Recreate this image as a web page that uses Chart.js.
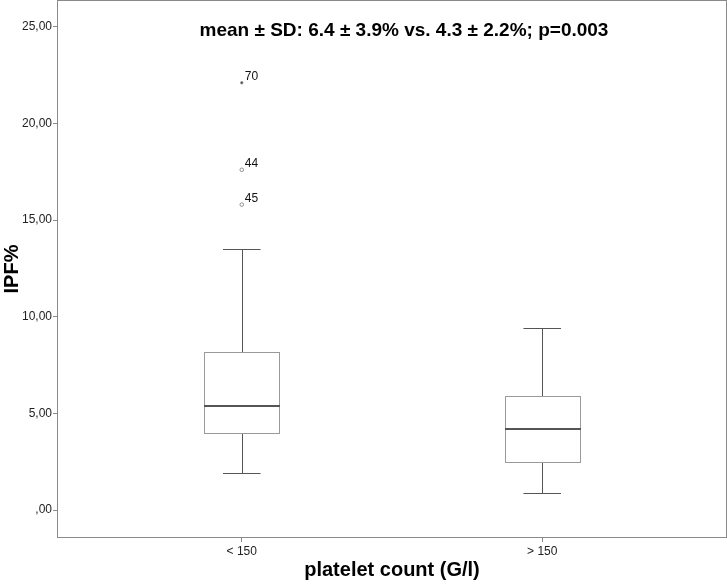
<!DOCTYPE html>
<html>
<head>
<meta charset="utf-8">
<script src="https://cdn.jsdelivr.net/npm/chart.js@4.4.1/dist/chart.umd.min.js"></script>
<style>
  html, body { margin: 0; padding: 0; background: #fff; }
  #wrap { width: 727px; height: 584px; }
</style>
</head>
<body>
<div id="wrap"><canvas id="chart"></canvas></div>
<script>
//groups on the x axis
const groups = ["< 150", "> 150"];
//box plot values per group
const whiskerLow = [1.9, 0.9];
const q1 = [4.0, 2.5];
const medians = [5.4, 4.2];
const q3 = [8.2, 5.9];
const whiskerHigh = [13.5, 9.4];
//outliers (group index, value, case id)
const outlierGroup = [0, 0, 0];
const outlierValues = [22.1, 17.6, 15.8];
const outlierIds = ["70", "44", "45"];
const outlierExtreme = [true, false, false];
const yTicks = [0, 5, 10, 15, 20, 25];
const titleText = "mean \u00b1 SD: 6.4 \u00b1 3.9% vs. 4.3 \u00b1 2.2%; p=0.003";

const FONT = "Arial, 'Liberation Sans', sans-serif";

//draws frame, boxes, whiskers, outlier labels and the title
const boxPlugin = {
  id: "boxes",
  beforeDatasetsDraw(chart) {
    const { ctx, chartArea: a, scales } = chart;
    const x = scales.x, y = scales.y;
    ctx.save();
    // frame
    ctx.strokeStyle = "#8a8a8a";
    ctx.lineWidth = 1;
    ctx.strokeRect(a.left + 0.5, a.top + 0.5, a.right - a.left - 1, a.bottom - a.top - 1);

    groups.forEach((g, i) => {
      const cx = Math.round(x.getPixelForValue(i)) + 0.5;
      const bl = x.getPixelForValue(i - 0.125), br = x.getPixelForValue(i + 0.125);
      const cl = x.getPixelForValue(i - 0.0625), cr = x.getPixelForValue(i + 0.0625);
      const py = v => Math.round(y.getPixelForValue(v)) + 0.5;
      // whiskers
      ctx.strokeStyle = "#555";
      ctx.lineWidth = 1;
      ctx.beginPath();
      ctx.moveTo(cx, py(whiskerHigh[i])); ctx.lineTo(cx, py(q3[i]));
      ctx.moveTo(cx, py(q1[i])); ctx.lineTo(cx, py(whiskerLow[i]));
      ctx.moveTo(cl, py(whiskerHigh[i])); ctx.lineTo(cr, py(whiskerHigh[i]));
      ctx.moveTo(cl, py(whiskerLow[i])); ctx.lineTo(cr, py(whiskerLow[i]));
      ctx.stroke();
      // box
      ctx.fillStyle = "#fff";
      ctx.strokeStyle = "#9a9a9a";
      const top = py(q3[i]), bot = py(q1[i]);
      ctx.fillRect(Math.round(bl) + 0.5, top, Math.round(br) - Math.round(bl), bot - top);
      ctx.strokeRect(Math.round(bl) + 0.5, top, Math.round(br) - Math.round(bl), bot - top);
      // median
      ctx.strokeStyle = "#555";
      ctx.lineWidth = 2;
      ctx.beginPath();
      const my = Math.round(y.getPixelForValue(medians[i]));
      ctx.moveTo(Math.round(bl), my); ctx.lineTo(Math.round(br) + 1, my);
      ctx.stroke();
    });
    ctx.restore();
  },
  afterDatasetsDraw(chart) {
    const { ctx, scales } = chart;
    ctx.save();
    ctx.fillStyle = "#111";
    ctx.font = "12px " + FONT;
    ctx.textAlign = "left";
    ctx.textBaseline = "alphabetic";
    outlierValues.forEach((v, k) => {
      const px = scales.x.getPixelForValue(outlierGroup[k]);
      const py = scales.y.getPixelForValue(v);
      ctx.fillText(outlierIds[k], px + 3, py - 3);
    });
    ctx.font = "bold 19px " + FONT;
    ctx.textAlign = "center";
    ctx.textBaseline = "middle";
    ctx.fillStyle = "#000";
    ctx.fillText(titleText, 404, 31);
    ctx.restore();
  }
};

new Chart(document.getElementById("chart"), {
  type: "scatter",
  plugins: [boxPlugin],
  data: {
    datasets: [{
      data: outlierValues.map((v, k) => ({ x: outlierGroup[k], y: v })),
      pointRadius: outlierExtreme.map(e => e ? 1.2 : 1.8),
      pointBackgroundColor: outlierExtreme.map(e => e ? "#555" : "#fff"),
      pointBorderColor: "#777",
      pointBorderWidth: 0.8,
    }],
  },
  options: {
    responsive: true,
    maintainAspectRatio: false,
    animation: false,
    layout: { autoPadding: false, padding: 0 },
    plugins: { legend: { display: false }, tooltip: { enabled: false } },
    scales: {
      x: {
        type: "linear",
        min: -0.615,
        max: 1.615,
        afterBuildTicks: s => { s.ticks = groups.map((g, i) => ({ value: i })); },
        afterFit: s => { s.height = 46; s.paddingLeft = 0; s.paddingRight = 0; },
        ticks: {
          callback: v => groups[v],
          color: "#222",
          font: { family: FONT, size: 12 },
          padding: 2,
          maxRotation: 0,
        },
        grid: { drawOnChartArea: false, tickLength: 4, color: "#8a8a8a" },
        border: { display: false },
        title: {
          display: true,
          text: "platelet count (G/l)",
          color: "#000",
          font: { family: FONT, size: 20, weight: "bold" },
          padding: { top: 0, bottom: 2 },
        },
      },
      y: {
        min: -1.44,
        max: 26.38,
        afterBuildTicks: s => { s.ticks = yTicks.map(v => ({ value: v })); },
        afterFit: s => { s.width = 57; s.paddingTop = 0; s.paddingBottom = 0; },
        ticks: {
          callback: v => v === 0 ? ",00" : v.toFixed(2).replace(".", ","),
          color: "#222",
          font: { family: FONT, size: 12 },
          padding: 1,
        },
        grid: { drawOnChartArea: false, tickLength: 4, color: "#8a8a8a" },
        border: { display: false },
        title: {
          display: true,
          text: "IPF%",
          color: "#000",
          font: { family: FONT, size: 20, weight: "bold" },
          padding: { top: 0, bottom: 0 },
        },
      },
    },
  },
});
</script>
</body>
</html>
